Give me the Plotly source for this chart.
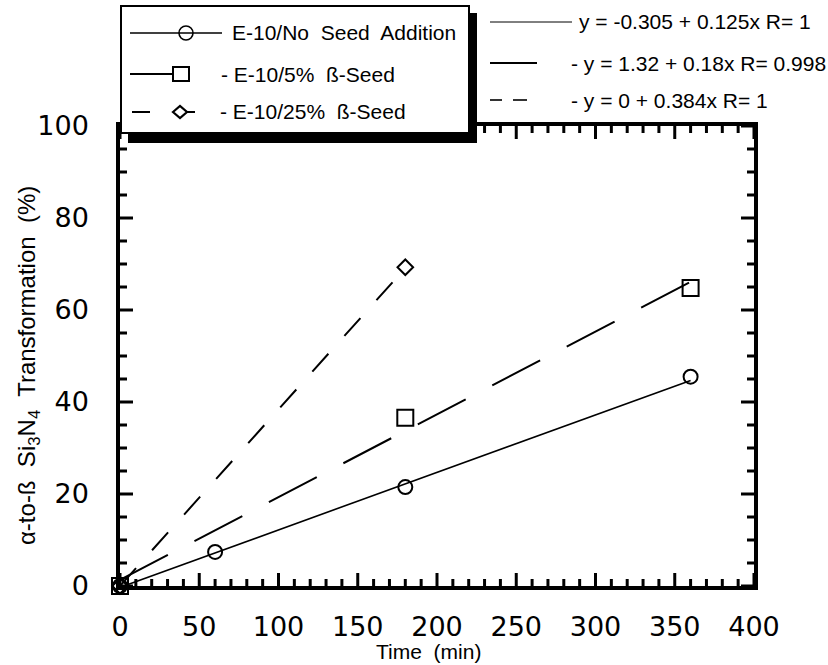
import plotly.graph_objects as go

# ---------------- data ----------------
time_no_seed = [0, 60, 180, 360]
pct_no_seed = [0, 7.4, 21.5, 45.5]
time_5pct = [0, 180, 360]
pct_5pct = [0, 36.6, 64.8]
time_25pct = [0, 180]
pct_25pct = [0, 69.3]

fit_intercepts = [-0.305, 1.32, 0]
fit_slopes = [0.125, 0.18, 0.384]
fit_r = ["1", "0.998", "1"]
fit_labels = ["-0.305", "1.32", "0"]
fit_slope_labels = ["0.125", "0.18", "0.384"]
series_names = ["E-10/No  Seed  Addition", "E-10/5%  ß-Seed", "E-10/25%  ß-Seed"]

x_ticks = [0, 50, 100, 150, 200, 250, 300, 350, 400]
y_ticks = [0, 20, 40, 60, 80, 100]
x_minor_step = 10
y_minor_step = 5

# ---------------- layout geometry ----------------
W, H = 828, 665
L, R, T, B = 120, 754, 126, 586
FONT = "Liberation Sans, Arial, Helvetica, sans-serif"
TICKFONT = "DejaVu Sans, Liberation Sans, Arial, sans-serif"
X_RANGE = [0, 400]
Y_RANGE = [0, 100]


def px(x):
    return (x - L) / (R - L)


def py(y):
    return (B - y) / (B - T)


fig = go.Figure()

# ---- inward tick marks on all four sides, drawn as one line trace ----
x_units_per_px = (X_RANGE[1] - X_RANGE[0]) / (R - L)
y_units_per_px = (Y_RANGE[1] - Y_RANGE[0]) / (B - T)
MAJ, MIN = 13, 7
tx, ty = [], []
for v in range(X_RANGE[0], X_RANGE[1] + 1, x_minor_step):
    ln = (MAJ if v in x_ticks else MIN) * y_units_per_px
    tx += [v, v, None, v, v, None]
    ty += [Y_RANGE[0], Y_RANGE[0] + ln, None, Y_RANGE[1], Y_RANGE[1] - ln, None]
for v in range(Y_RANGE[0], Y_RANGE[1] + 1, y_minor_step):
    ln = (MAJ if v in y_ticks else MIN) * x_units_per_px
    tx += [X_RANGE[0], X_RANGE[0] + ln, None, X_RANGE[1], X_RANGE[1] - ln, None]
    ty += [v, v, None, v, v, None]
fig.add_trace(go.Scatter(x=tx, y=ty, mode="lines", line=dict(color="black", width=3),
                         connectgaps=False, showlegend=False, hoverinfo="skip"))

# fit lines
dashes = ["solid", "54px,30px", "24px,24px"]
widths = [1.6, 2, 2]
xs_all = [time_no_seed, time_5pct, time_25pct]
for a, b, xs, d, w in zip(fit_intercepts, fit_slopes, xs_all, dashes, widths):
    x_end = max(xs)
    fig.add_trace(go.Scatter(
        x=[0, x_end], y=[a, a + b * x_end], mode="lines",
        line=dict(color="black", width=w, dash=d),
        showlegend=False, hoverinfo="skip"))

# data points
pts = [
    (time_no_seed, pct_no_seed, "circle-open", 14),
    (time_5pct, pct_5pct, "square-open", 16),
    (time_25pct, pct_25pct, "diamond-open", 12),
]
for xs, ys, sym, sz in pts:
    fig.add_trace(go.Scatter(
        x=xs, y=ys, mode="markers",
        marker=dict(symbol=sym, size=sz, color="black", line=dict(width=2, color="black")),
        showlegend=False, cliponaxis=False))

shapes = []
annotations = []

# legend box with shadow
shapes.append(dict(type="rect", xref="paper", yref="paper",
                   x0=px(128), x1=px(477), y0=py(13), y1=py(143),
                   fillcolor="black", line=dict(width=0), layer="above"))
shapes.append(dict(type="rect", xref="paper", yref="paper",
                   x0=px(121), x1=px(469), y0=py(6), y1=py(133),
                   fillcolor="white", line=dict(width=2, color="black"), layer="above"))

# legend samples
rows_y = [33, 74, 112]


def hline(x0, x1, y, w=1.6, dash="solid"):
    shapes.append(dict(type="line", xref="paper", yref="paper",
                       x0=px(x0), x1=px(x1), y0=py(y), y1=py(y),
                       line=dict(color="black", width=w, dash=dash), layer="above"))


hline(130, 222, rows_y[0], 1.6)
shapes.append(dict(type="circle", xref="paper", yref="paper",
                   x0=px(179), x1=px(193), y0=py(rows_y[0] - 7), y1=py(rows_y[0] + 7),
                   line=dict(color="black", width=1.6), layer="above"))
hline(130, 173, rows_y[1], 2)
shapes.append(dict(type="rect", xref="paper", yref="paper",
                   x0=px(173), x1=px(189), y0=py(rows_y[1] - 7), y1=py(rows_y[1] + 7),
                   line=dict(color="black", width=2), layer="above"))
hline(132, 150, rows_y[2], 2)
hline(187, 195, rows_y[2], 2)
cx, cy = 180, rows_y[2]
path = "M {} {} L {} {} L {} {} L {} {} Z".format(
    px(cx - 7), py(cy), px(cx), py(cy - 6), px(cx + 7), py(cy), px(cx), py(cy + 6))
shapes.append(dict(type="path", xref="paper", yref="paper", path=path,
                   line=dict(color="black", width=2.2), layer="above"))

legend_texts = [series_names[0], "- " + series_names[1], "- " + series_names[2]]
legend_x = [230, 219, 218]
for t, x, y in zip(legend_texts, legend_x, rows_y):
    annotations.append(dict(text=t, xref="paper", yref="paper", x=px(x), y=py(y),
                            xanchor="left", yanchor="middle", showarrow=False,
                            font=dict(family=FONT, size=21, color="black")))

# equation samples
eq_y = [22, 63, 100]
hline(490, 572, eq_y[0], 1.0)
hline(490, 537, eq_y[1], 2)
hline(490, 502, eq_y[2], 1.6)
hline(513, 527, eq_y[2], 1.6)
eq_texts = []
for i in range(3):
    s = "y = {} + {}x R= {}".format(fit_labels[i], fit_slope_labels[i], fit_r[i])
    eq_texts.append(s if i == 0 else "- " + s)
eq_x = [577, 569, 569]
for t, x, y in zip(eq_texts, eq_x, eq_y):
    annotations.append(dict(text=t, xref="paper", yref="paper", x=px(x), y=py(y),
                            xanchor="left", yanchor="middle", showarrow=False,
                            font=dict(family=FONT, size=21, color="black")))

# axis titles
annotations.append(dict(text="Time  (min)", xref="paper", yref="paper",
                        x=px(428), y=py(651), xanchor="center", yanchor="middle",
                        showarrow=False, font=dict(family=FONT, size=21, color="black")))
annotations.append(dict(text="α-to-ß  Si<sub>3</sub>N<sub>4</sub>  Transformation  (%)",
                        xref="paper", yref="paper", x=px(28), y=py(366),
                        xanchor="center", yanchor="middle", textangle=-90,
                        showarrow=False, font=dict(family=FONT, size=24, color="black")))

axis_common = dict(
    showline=True, linewidth=3.5, linecolor="black", mirror=True,
    ticks="", showgrid=False, zeroline=False,
    tickfont=dict(family=TICKFONT, size=27, color="black"),
)

fig.update_layout(
    width=W, height=H,
    margin=dict(l=L, r=W - R, t=T, b=H - B),
    paper_bgcolor="white", plot_bgcolor="white",
    xaxis=dict(range=X_RANGE, tickvals=x_ticks, ticklabelstandoff=14, **axis_common),
    yaxis=dict(range=Y_RANGE, tickvals=y_ticks, ticklabelstandoff=22, **axis_common),
    shapes=shapes, annotations=annotations,
    showlegend=False,
)

fig.write_html("out.html")
